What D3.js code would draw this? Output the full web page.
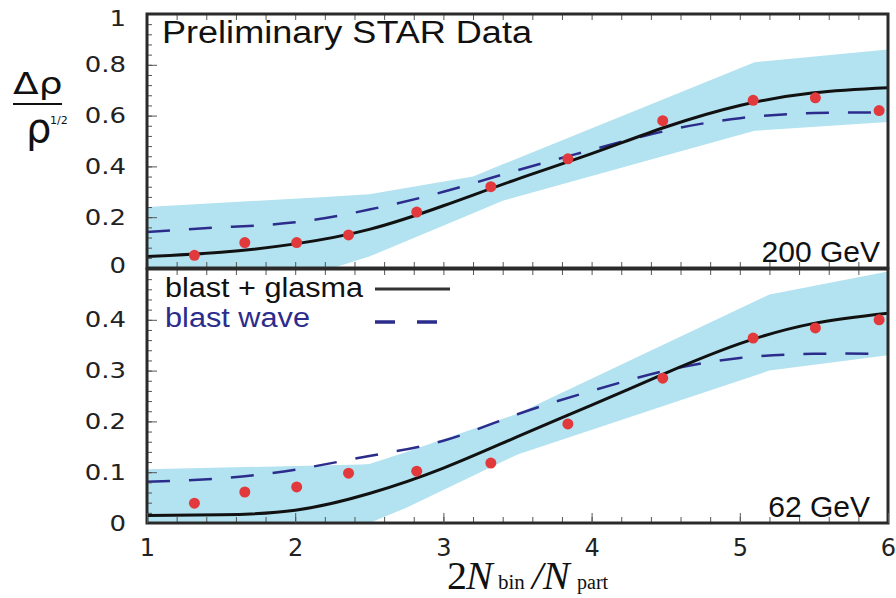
<!DOCTYPE html>
<html>
<head>
<meta charset="utf-8">
<script src="https://cdn.jsdelivr.net/npm/d3@7"></script>
<style>
body { margin: 0; background: #fff; }
svg { display: block; }
.tick text { font-family: "DejaVu Sans", sans-serif; fill: #222; }
.tick line { stroke: #555; }
</style>
</head>
<body>
<svg id="chart" width="896" height="598"></svg>
<script>
// ---- data ----
// measured points, same x for both energies
var xPts = [1.32, 1.66, 2.01, 2.36, 2.82, 3.32, 3.84, 4.48, 5.09, 5.51, 5.94];
var data200 = [0.05, 0.10, 0.10, 0.13, 0.22, 0.32, 0.43, 0.58, 0.66, 0.67, 0.62];
var data62 = [0.039, 0.061, 0.071, 0.098, 0.102, 0.118, 0.195, 0.285, 0.364, 0.384, 0.40];

// model curves, sampled every 0.5
var xCurve = [1, 1.5, 2, 2.5, 3, 3.5, 4, 4.5, 5, 5.5, 6];
var glasma200 = [0.045, 0.062, 0.095, 0.152, 0.245, 0.35, 0.45, 0.555, 0.64, 0.69, 0.71];
var wave200 = [0.142, 0.16, 0.18, 0.23, 0.30, 0.385, 0.465, 0.54, 0.59, 0.61, 0.612];
var glasma62 = [0.015, 0.016, 0.025, 0.058, 0.108, 0.17, 0.232, 0.295, 0.353, 0.393, 0.413];
var wave62 = [0.081, 0.088, 0.105, 0.132, 0.162, 0.214, 0.26, 0.30, 0.325, 0.333, 0.333];

// systematic bands (x, low, high)
var band200X = [1, 2.2, 2.5, 3.2, 3.4, 5.1, 6];
var band200Lo = [-0.02, -0.01, 0.045, 0.216, 0.265, 0.54, 0.575];
var band200Hi = [0.24, 0.28, 0.29, 0.36, 0.408, 0.81, 0.86];
var band62X = [1, 2.45, 2.5, 2.75, 3.5, 5.2, 6];
var band62Lo = [-0.01, -0.005, 0.0, 0.03, 0.135, 0.30, 0.33];
var band62Hi = [0.106, 0.115, 0.116, 0.14, 0.215, 0.45, 0.495];

var yTicks200 = [0, 0.2, 0.4, 0.6, 0.8, 1];
var yTicks62 = [0, 0.1, 0.2, 0.3, 0.4];
var xTicks = [1, 2, 3, 4, 5, 6];

var svg = d3.select("#chart");

var x = d3.scaleLinear().domain([1, 6]).range([147, 888]);
var yTop = d3.scaleLinear().domain([0, 1]).range([268, 14]);
var yBot = d3.scaleLinear().domain([0, 0.5]).range([523, 269]);

var bandColor = "#b3e3f0";
var waveColor = "#2c2c8c";
var dotColor = "#e23a3c";

// stretch text horizontally, the original lettering is wide
function stretch(sel, f) {
  sel.each(function() {
    var w = this.getComputedTextLength();
    d3.select(this).attr("textLength", w * f).attr("lengthAdjust", "spacingAndGlyphs");
  });
}

function panel(id, y, bX, bLo, bHi, glasma, wave, pts, ticks, minorStep, label, labelX, labelY) {
  var g = svg.append("g");
  var y0 = y.range()[0], y1 = y.range()[1];

  svg.append("clipPath").attr("id", id)
    .append("rect")
    .attr("x", x(1)).attr("y", y1)
    .attr("width", x(6) - x(1)).attr("height", y0 - y1);

  var plot = g.append("g").attr("clip-path", "url(#" + id + ")");

  var band = bX.map(function(d, i) { return {x: d, lo: bLo[i], hi: bHi[i]}; });
  plot.append("path")
    .datum(band)
    .attr("fill", bandColor)
    .attr("d", d3.area()
      .x(function(d) { return x(d.x); })
      .y0(function(d) { return y(d.lo); })
      .y1(function(d) { return y(d.hi); }));

  var line = d3.line()
    .x(function(d) { return x(d[0]); })
    .y(function(d) { return y(d[1]); })
    .curve(d3.curveNatural);

  plot.append("path")
    .datum(d3.zip(xCurve, wave))
    .attr("fill", "none")
    .attr("stroke", waveColor)
    .attr("stroke-width", 2.5)
    .attr("stroke-dasharray", "23,19")
    .attr("d", line);

  plot.append("path")
    .datum(d3.zip(xCurve, glasma))
    .attr("fill", "none")
    .attr("stroke", "#111")
    .attr("stroke-width", 3)
    .attr("d", line);

  g.selectAll("circle.pt")
    .data(d3.zip(xPts, pts))
    .enter().append("circle")
    .attr("class", "pt")
    .attr("cx", function(d) { return x(d[0]); })
    .attr("cy", function(d) { return y(d[1]); })
    .attr("r", 5.5)
    .attr("fill", dotColor);

  // minor ticks, left
  var minor = d3.range(0, y.domain()[1] + 1e-9, minorStep);
  g.append("g")
    .attr("transform", "translate(" + x(1) + ",0)")
    .call(d3.axisLeft(y).tickValues(minor).tickSize(-5).tickFormat(""))
    .call(function(a) { a.select(".domain").remove(); });

  // major ticks + labels, left
  var ax = g.append("g")
    .attr("transform", "translate(" + x(1) + ",0)")
    .call(d3.axisLeft(y).tickValues(ticks).tickSizeInner(-10).tickSizeOuter(0).tickPadding(21)
      .tickFormat(function(d) { return d3.format("~g")(d); }));
  ax.select(".domain").remove();
  ax.selectAll(".tick text").attr("font-size", 22);
  stretch(ax.selectAll(".tick text"), 1.18);

  // x ticks along top and bottom edges
  var xMinor = d3.range(1, 6.001, 0.2);
  [y0, y1].forEach(function(pos, k) {
    var axis = k === 0 ? d3.axisBottom(x) : d3.axisTop(x);
    g.append("g")
      .attr("transform", "translate(0," + pos + ")")
      .call(axis.tickValues(xMinor).tickSize(-6).tickFormat(""))
      .call(function(a) { a.select(".domain").remove(); });
  });

  g.append("rect")
    .attr("x", x(1)).attr("y", y1)
    .attr("width", x(6) - x(1)).attr("height", y0 - y1)
    .attr("fill", "none")
    .attr("stroke", "#2a2a2a")
    .attr("stroke-width", 3);

  g.append("text")
    .attr("x", labelX).attr("y", labelY)
    .attr("text-anchor", "end")
    .attr("font-family", "Liberation Sans, Arial, sans-serif")
    .attr("font-size", 30)
    .attr("fill", "#111")
    .text(label);

  return ax;
}

var axTop = panel("clipTop", yTop, band200X, band200Lo, band200Hi, glasma200, wave200, data200,
  yTicks200, 0.04, "200 GeV", 880, 262);
var axBot = panel("clipBot", yBot, band62X, band62Lo, band62Hi, glasma62, wave62, data62,
  yTicks62, 0.02, "62 GeV", 870, 517);

// nudge end labels of top panel like the original
axTop.selectAll(".tick").filter(function(d) { return d === 1; }).select("text").attr("y", 4);
axTop.selectAll(".tick").filter(function(d) { return d === 0; }).select("text").attr("y", -3);

// x axis labels along bottom
var xAx = svg.append("g")
  .attr("transform", "translate(0," + yBot.range()[0] + ")")
  .call(d3.axisBottom(x).tickValues(xTicks).tickSizeInner(-10).tickSizeOuter(0).tickPadding(16)
    .tickFormat(d3.format("d")));
xAx.select(".domain").remove();
xAx.selectAll(".tick text").attr("font-size", 24);

// title
svg.append("text")
  .attr("x", 162).attr("y", 43)
  .attr("font-family", "Liberation Sans, Arial, sans-serif")
  .attr("font-size", 31)
  .attr("fill", "#111")
  .attr("textLength", 370).attr("lengthAdjust", "spacingAndGlyphs")
  .text("Preliminary STAR Data");

// legend
svg.append("text")
  .attr("x", 165).attr("y", 297)
  .attr("font-family", "Liberation Sans, Arial, sans-serif")
  .attr("font-size", 27).attr("fill", "#111")
  .attr("textLength", 198).attr("lengthAdjust", "spacingAndGlyphs")
  .text("blast + glasma");
svg.append("text")
  .attr("x", 165).attr("y", 327)
  .attr("font-family", "Liberation Sans, Arial, sans-serif")
  .attr("font-size", 27).attr("fill", waveColor)
  .attr("textLength", 145).attr("lengthAdjust", "spacingAndGlyphs")
  .text("blast wave");
svg.append("line")
  .attr("x1", 375).attr("x2", 450).attr("y1", 289).attr("y2", 289)
  .attr("stroke", "#333").attr("stroke-width", 3);
svg.append("line")
  .attr("x1", 375).attr("x2", 440).attr("y1", 322).attr("y2", 322)
  .attr("stroke", waveColor).attr("stroke-width", 3.5)
  .attr("stroke-dasharray", "20,22");

// y axis title: delta rho over rho^(1/2)
var num = svg.append("text")
  .attr("x", 13).attr("y", 94)
  .attr("font-family", "DejaVu Sans, sans-serif")
  .attr("font-size", 30).attr("fill", "#111")
  .text("Δρ");
stretch(num, 1.25);
svg.append("line")
  .attr("x1", 13).attr("x2", 62).attr("y1", 104).attr("y2", 104)
  .attr("stroke", "#111").attr("stroke-width", 2);
svg.append("text")
  .attr("x", 26).attr("y", 142)
  .attr("font-family", "DejaVu Sans, sans-serif")
  .attr("font-size", 40).attr("fill", "#111")
  .text("ρ");
svg.append("text")
  .attr("x", 50).attr("y", 124)
  .attr("font-family", "DejaVu Sans, sans-serif")
  .attr("font-size", 11).attr("fill", "#111")
  .text("1/2");

// x axis title: 2N_bin / N_part
var xt = svg.append("text")
  .attr("y", 589)
  .attr("font-family", "Liberation Serif, Times New Roman, serif")
  .attr("fill", "#111");
xt.append("tspan").attr("x", 447).attr("font-size", 40).text("2");
xt.append("tspan").attr("x", 466).attr("font-size", 40).attr("font-style", "italic").text("N");
xt.append("tspan").attr("x", 498).attr("font-size", 21).text("bin");
xt.append("tspan").attr("x", 532).attr("font-size", 40).attr("font-style", "italic").text("/");
xt.append("tspan").attr("x", 543).attr("font-size", 40).attr("font-style", "italic").text("N");
xt.append("tspan").attr("x", 577).attr("font-size", 20).text("part");
</script>
</body>
</html>
